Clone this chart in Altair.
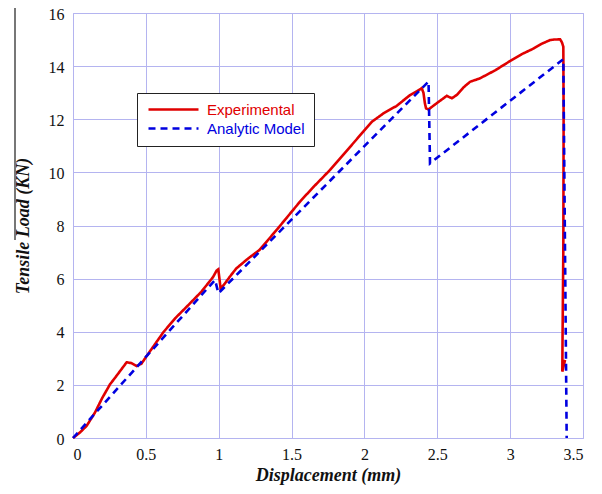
import altair as alt
import pandas as pd

# Experimental curve (displacement mm, load kN), in drawing order
exp_x = [0, 0.05, 0.094, 0.15, 0.2, 0.254, 0.3, 0.368, 0.40, 0.437, 0.47, 0.52, 0.62, 0.70,
         0.78, 0.88, 0.96, 0.985, 0.997, 1.005, 1.013, 1.04, 1.08, 1.12, 1.2, 1.28, 1.4,
         1.558, 1.65, 1.764, 1.9, 2.05, 2.13, 2.22, 2.313, 2.36, 2.393, 2.405, 2.415, 2.423,
         2.44, 2.5, 2.565, 2.60, 2.633, 2.68, 2.725, 2.793, 2.9, 2.999, 3.08, 3.16, 3.22,
         3.274, 3.30, 3.343, 3.355, 3.365, 3.367, 3.365, 3.36, 3.358, 3.377]
exp_y = [0, 0.22, 0.46, 0.95, 1.5, 2.02, 2.35, 2.85, 2.82, 2.71, 2.8, 3.2, 3.98, 4.5,
         4.94, 5.5, 6.05, 6.3, 6.35, 6.0, 5.63, 5.8, 6.1, 6.38, 6.75, 7.08, 7.85,
         8.9, 9.45, 10.09, 10.95, 11.9, 12.22, 12.5, 12.91, 13.05, 13.17, 13.0, 12.6, 12.41,
         12.37, 12.62, 12.88, 12.79, 12.91, 13.2, 13.41, 13.54, 13.85, 14.19, 14.45, 14.66, 14.85,
         14.98, 15.0, 15.01, 14.9, 14.73, 12.0, 7.08, 4.0, 2.50, 2.94]

# Analytic model
ana_x = [0, 0.975, 0.998, 2.44, 2.45, 3.365, 3.388]
ana_y = [0, 5.95, 5.45, 13.42, 10.34, 14.26, 0]

series = ["Experimental", "Analytic Model"]
colors = ["#e00000", "#0000e0"]

x_ticks = [0, 0.5, 1, 1.5, 2, 2.5, 3, 3.5]
y_ticks = [0, 2, 4, 6, 8, 10, 12, 14, 16]

rows = []
for i, (x, y) in enumerate(zip(exp_x, exp_y)):
    rows.append({"x": x, "y": y, "series": series[0], "i": i})
for i, (x, y) in enumerate(zip(ana_x, ana_y)):
    rows.append({"x": x, "y": y, "series": series[1], "i": i})
df = pd.DataFrame(rows)

grid_color = "#b4b4f0"
serif = "Liberation Serif"

lines = alt.Chart(df).mark_line(strokeWidth=2.6, strokeCap="butt").encode(
    x=alt.X("x:Q", scale=alt.Scale(domain=[0, 3.5], nice=False),
            axis=alt.Axis(values=x_ticks, format="~g", title="Displacement (mm)",
                          grid=True, ticks=False, domain=False, labelPadding=8,
                          labelFont=serif, labelFontSize=16,
                          titleFont=serif, titleFontSize=18, titlePadding=4)),
    y=alt.Y("y:Q", scale=alt.Scale(domain=[0, 16], nice=False),
            axis=alt.Axis(values=y_ticks, format="~g", title="Tensile Load (KN)",
                          grid=True, ticks=False, domain=False, labelPadding=9,
                          labelOffset=1,
                          labelFont=serif, labelFontSize=16,
                          titleFont=serif, titleFontSize=18, titlePadding=16)),
    color=alt.Color("series:N", scale=alt.Scale(domain=series, range=colors),
                    legend=alt.Legend(title=None, orient="none", legendX=64, legendY=80,
                                      strokeColor="#222222", fillColor="white",
                                      padding=9, rowPadding=3,
                                      symbolType="M-1,0H9", symbolSize=100,
                                      symbolStrokeWidth=2.6, labelOffset=46,
                                      labelFont="Liberation Sans", labelFontSize=15,
                                      labelColor=alt.ExprRef(expr="datum.label == 'Experimental' ? '#e00000' : '#0000e0'"))),
    strokeDash=alt.StrokeDash("series:N", scale=alt.Scale(domain=series, range=[[1, 0], [7, 5]]),
                              legend=None),
    order="i:Q",
)

edge = alt.Chart(pd.DataFrame({"a": [0]})).mark_rule(color="#777777", strokeWidth=2).encode(
    x=alt.value(-58), y=alt.value(-8), y2=alt.value(227)
)

chart = alt.layer(lines, edge).properties(
    width=510, height=425,
    padding={"left": 65, "top": 5, "right": 11, "bottom": 48},
    autosize=alt.AutoSizeParams(type="none"),
).configure_view(stroke=grid_color, strokeWidth=1).configure_axis(
    gridColor=grid_color, gridWidth=1, gridOpacity=1,
    labelFont=serif, labelFontSize=16, labelColor="#111111",
    titleFont=serif, titleFontSize=18, titleFontWeight="bold",
    titleFontStyle="italic", titleColor="#111111",
)

chart.save("out.html", embed_options={"renderer": "svg", "actions": False})
